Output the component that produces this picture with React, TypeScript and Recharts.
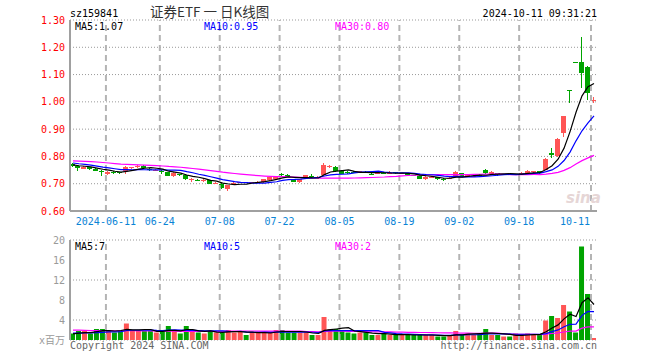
import React from 'react';
import { ComposedChart, Bar, Line, XAxis, YAxis, CartesianGrid, ReferenceLine, Cell } from 'recharts';

// trading days shown on the daily K chart
const dates = [
  '2024-05-31', '2024-06-03', '2024-06-04', '2024-06-05', '2024-06-06', '2024-06-07', '2024-06-11', '2024-06-12', '2024-06-13', '2024-06-14',
  '2024-06-17', '2024-06-18', '2024-06-19', '2024-06-20', '2024-06-21', '2024-06-24', '2024-06-25', '2024-06-26', '2024-06-27', '2024-06-28',
  '2024-07-01', '2024-07-02', '2024-07-03', '2024-07-04', '2024-07-05', '2024-07-08', '2024-07-09', '2024-07-10', '2024-07-11', '2024-07-12',
  '2024-07-15', '2024-07-16', '2024-07-17', '2024-07-18', '2024-07-19', '2024-07-22', '2024-07-23', '2024-07-24', '2024-07-25', '2024-07-26',
  '2024-07-29', '2024-07-30', '2024-07-31', '2024-08-01', '2024-08-02', '2024-08-05', '2024-08-06', '2024-08-07', '2024-08-08', '2024-08-09',
  '2024-08-12', '2024-08-13', '2024-08-14', '2024-08-15', '2024-08-16', '2024-08-19', '2024-08-20', '2024-08-21', '2024-08-22', '2024-08-23',
  '2024-08-26', '2024-08-27', '2024-08-28', '2024-08-29', '2024-08-30', '2024-09-02', '2024-09-03', '2024-09-04', '2024-09-05', '2024-09-06',
  '2024-09-09', '2024-09-10', '2024-09-11', '2024-09-12', '2024-09-13', '2024-09-18', '2024-09-19', '2024-09-20', '2024-09-23', '2024-09-24',
  '2024-09-25', '2024-09-26', '2024-09-27', '2024-09-30', '2024-10-08', '2024-10-09', '2024-10-10', '2024-10-11',
];

const opens = [
  0.772, 0.766, 0.755, 0.760, 0.755, 0.748, 0.737, 0.744, 0.742, 0.748,
  0.757, 0.760, 0.766, 0.755, 0.750, 0.748, 0.742, 0.729, 0.736, 0.733,
  0.713, 0.714, 0.711, 0.712, 0.700, 0.700, 0.680, 0.698, 0.703, 0.707,
  0.704, 0.705, 0.706, 0.712, 0.717, 0.734, 0.732, 0.716, 0.707, 0.721,
  0.730, 0.722, 0.732, 0.763, 0.763, 0.748, 0.744, 0.743, 0.741, 0.744,
  0.737, 0.736, 0.740, 0.739, 0.742, 0.738, 0.738, 0.731, 0.730, 0.718,
  0.725, 0.724, 0.719, 0.719, 0.730, 0.738, 0.726, 0.728, 0.733, 0.752,
  0.736, 0.739, 0.734, 0.735, 0.734, 0.737, 0.741, 0.743, 0.746, 0.751,
  0.811, 0.800, 0.887, 1.043, 1.147, 1.147, 1.128, 1.005,
];

const highs = [
  0.775, 0.768, 0.764, 0.762, 0.757, 0.750, 0.746, 0.746, 0.744, 0.765,
  0.762, 0.768, 0.768, 0.757, 0.753, 0.750, 0.743, 0.742, 0.737, 0.735,
  0.722, 0.716, 0.716, 0.713, 0.705, 0.702, 0.697, 0.706, 0.708, 0.708,
  0.707, 0.710, 0.718, 0.725, 0.729, 0.741, 0.735, 0.718, 0.718, 0.733,
  0.735, 0.728, 0.775, 0.768, 0.766, 0.750, 0.746, 0.746, 0.748, 0.746,
  0.738, 0.745, 0.742, 0.745, 0.744, 0.741, 0.740, 0.733, 0.731, 0.727,
  0.728, 0.725, 0.721, 0.724, 0.745, 0.740, 0.733, 0.731, 0.735, 0.754,
  0.746, 0.741, 0.737, 0.736, 0.736, 0.742, 0.750, 0.748, 0.748, 0.793,
  0.830, 0.866, 0.948, 1.043, 1.147, 1.239, 1.131, 1.017,
];

const lows = [
  0.760, 0.748, 0.753, 0.752, 0.745, 0.729, 0.732, 0.737, 0.735, 0.737,
  0.755, 0.758, 0.755, 0.748, 0.748, 0.736, 0.727, 0.726, 0.729, 0.714,
  0.708, 0.709, 0.708, 0.699, 0.698, 0.682, 0.675, 0.696, 0.701, 0.702,
  0.702, 0.703, 0.703, 0.710, 0.716, 0.725, 0.723, 0.705, 0.704, 0.716,
  0.722, 0.720, 0.730, 0.758, 0.743, 0.735, 0.736, 0.738, 0.738, 0.739,
  0.733, 0.734, 0.737, 0.735, 0.736, 0.736, 0.733, 0.728, 0.716, 0.715,
  0.722, 0.713, 0.711, 0.716, 0.728, 0.724, 0.723, 0.725, 0.728, 0.737,
  0.734, 0.728, 0.732, 0.732, 0.731, 0.732, 0.739, 0.741, 0.737, 0.749,
  0.793, 0.797, 0.870, 0.997, 1.147, 1.050, 1.007, 0.995,
];

const closes = [
  0.764, 0.759, 0.762, 0.755, 0.747, 0.742, 0.744, 0.740, 0.738, 0.763,
  0.760, 0.766, 0.756, 0.750, 0.751, 0.743, 0.729, 0.740, 0.731, 0.716,
  0.719, 0.712, 0.714, 0.700, 0.702, 0.684, 0.695, 0.703, 0.706, 0.704,
  0.705, 0.708, 0.717, 0.723, 0.728, 0.732, 0.726, 0.708, 0.716, 0.731,
  0.725, 0.725, 0.770, 0.764, 0.745, 0.737, 0.739, 0.742, 0.746, 0.742,
  0.735, 0.739, 0.739, 0.741, 0.738, 0.739, 0.733, 0.730, 0.718, 0.726,
  0.726, 0.716, 0.714, 0.722, 0.742, 0.726, 0.731, 0.729, 0.730, 0.739,
  0.743, 0.734, 0.735, 0.733, 0.735, 0.740, 0.745, 0.745, 0.740, 0.792,
  0.807, 0.865, 0.948, 1.043, 1.147, 1.107, 1.034, 1.007,
];

// volume, millions
const volumes = [
  1.3, 1.8, 1.8, 1.3, 2.2, 2.2, 1.8, 1.5, 1.8, 3.3,
  1.8, 1.8, 1.8, 1.8, 1.5, 1.8, 2.8, 1.8, 1.3, 2.8,
  1.8, 1.5, 1.3, 1.8, 1.5, 1.5, 2.0, 1.5, 1.8, 1.0,
  1.5, 1.5, 1.5, 1.5, 2.0, 2.0, 1.5, 1.5, 1.5, 1.5,
  1.0, 1.0, 4.6, 2.2, 2.2, 1.8, 1.5, 1.3, 1.5, 1.5,
  1.0, 1.0, 1.3, 1.0, 1.0, 1.0, 1.0, 1.0, 1.0, 1.0,
  1.0, 0.7, 0.7, 1.0, 1.8, 1.0, 1.3, 1.0, 1.3, 2.2,
  1.0, 1.0, 0.7, 0.7, 1.3, 1.0, 1.3, 1.0, 1.0, 3.9,
  4.8, 4.4, 7.0, 5.7, 1.5, 18.7, 9.2, 0.4,
];

// sessions before the first candle (only feed the moving averages)
const prevCloses = [
  0.781, 0.785, 0.792, 0.789, 0.794, 0.798, 0.801, 0.796, 0.790, 0.788,
  0.793, 0.786, 0.782, 0.784, 0.779, 0.781, 0.776, 0.783, 0.785, 0.788,
  0.786, 0.784, 0.781, 0.783, 0.781, 0.774, 0.771, 0.768, 0.767,
];
const prevVolumes = [
  2.6, 2.9, 2.4, 2.2, 2.5, 2.1, 2.0, 2.6, 2.3, 2.1,
  2.4, 2.0, 2.2, 2.5, 2.1, 2.3, 2.2, 2.4, 2.1, 2.2,
  1.6, 1.4, 1.5, 1.6, 1.4, 1.1, 1.3, 1.2, 1.2,
];

const gridDates = ['2024-06-11', '2024-06-24', '2024-07-08', '2024-07-22', '2024-08-05', '2024-08-19', '2024-09-02', '2024-09-18', '2024-10-11'];
const priceTicks = [0.6, 0.7, 0.8, 0.9, 1.0, 1.1, 1.2, 1.3];
const volumeTicks = [0, 4, 8, 12, 16, 20];
const priceLegend = ['MA5:1.07', 'MA10:0.95', 'MA30:0.80'];
const volumeLegend = ['MA5:7', 'MA10:5', 'MA30:2'];

const RED = '#ff5555';
const GREEN = '#00a400';
const MA_COLORS = ['#000000', '#0000ff', '#ff00ff'];
const LEGEND_X = [75, 204, 335];
const MONO = "'DejaVu Sans Mono', 'Noto Sans CJK SC', monospace";
const BORDER = { stroke: '#a0a0a0', strokeWidth: 2 };

function movingAverage(values: number[], prev: number[], n: number) {
  const all = [...prev, ...values];
  return values.map((_, i) => {
    const end = prev.length + i + 1;
    const win = all.slice(Math.max(0, end - n), end);
    return win.reduce((a, b) => a + b, 0) / win.length;
  });
}

const ma5 = movingAverage(closes, prevCloses, 5);
const ma10 = movingAverage(closes, prevCloses, 10);
const ma30 = movingAverage(closes, prevCloses, 30);
const vma5 = movingAverage(volumes, prevVolumes, 5);
const vma10 = movingAverage(volumes, prevVolumes, 10);
const vma30 = movingAverage(volumes, prevVolumes, 30);

const rows = dates.map((date, i) => ({
  date,
  open: opens[i],
  high: highs[i],
  low: lows[i],
  close: closes[i],
  range: [lows[i], highs[i]],
  vol: volumes[i],
  up: closes[i] > opens[i],
  ma5: ma5[i],
  ma10: ma10[i],
  ma30: ma30[i],
  vma5: vma5[i],
  vma10: vma10[i],
  vma30: vma30[i],
}));

const Candle = (props: any) => {
  const { x, y, width, height, payload } = props;
  const top = Math.min(y, y + height);
  const bottom = Math.max(y, y + height);
  const span = payload.high - payload.low;
  const toY = (v: number) => (span > 0 ? top + ((payload.high - v) / span) * (bottom - top) : top);
  const color = payload.up ? RED : GREEN;
  const bx = Math.floor(x);
  const cx = bx + 2.5;
  const yo = toY(payload.open);
  const yc = toY(payload.close);
  const bodyTop = Math.min(yo, yc);
  const bodyH = Math.max(1, Math.abs(yo - yc));
  return (
    <g shapeRendering="crispEdges">
      <line x1={cx} x2={cx} y1={top} y2={Math.max(bottom, top + 1)} stroke={color} strokeWidth={1} />
      <rect x={bx} y={bodyTop} width={5} height={bodyH} fill={color} />
    </g>
  );
};

const DateTick = (props: any) => {
  const { x, y, payload } = props;
  const v: string = payload.value;
  const label = v === gridDates[0] ? v : v.slice(5);
  const last = v === gridDates[gridDates.length - 1];
  return (
    <text
      x={last ? x - 4 : x - 3}
      y={y + 14}
      textAnchor={last ? 'end' : 'middle'}
      fill="#0a84d6"
      fontSize={10}
      fontFamily={MONO}
    >
      {label}
    </text>
  );
};

const gridLines = gridDates.map((d) => (
  <ReferenceLine
    key={d}
    x={d}
    position="start"
    stroke="#b4b4b4"
    strokeWidth={2}
    strokeDasharray="6 4"
    ifOverflow="extendDomain"
  />
));

export default function App() {
  return (
    <div style={{ position: 'absolute', left: 0, top: 0, width: 660, height: 360, background: '#fff', overflow: 'hidden' }}>
      <div style={{ position: 'absolute', left: 0, top: 0 }}>
        <ComposedChart width={660} height={230} data={rows} margin={{ top: 20, right: 63, bottom: 0, left: 20 }}>
          <CartesianGrid vertical={false} stroke="#999" strokeDasharray="1 2" />
          {gridLines}
          <XAxis
            dataKey="date"
            ticks={gridDates}
            interval={0}
            height={19}
            tickSize={0}
            tickMargin={0}
            tickLine={false}
            axisLine={BORDER}
            tick={<DateTick />}
          />
          <XAxis xAxisId="top" dataKey="date" orientation="top" height={0} tick={false} tickLine={false} axisLine={BORDER} />
          <YAxis
            domain={[0.6, 1.3]}
            ticks={priceTicks}
            allowDataOverflow
            width={50}
            tickSize={0}
            tickMargin={5}
            tickLine={false}
            axisLine={BORDER}
            tickFormatter={(v: number) => v.toFixed(2)}
            tick={{ fill: '#ff0000', fontSize: 10, fontFamily: MONO }}
          />
          <YAxis yAxisId="right" orientation="right" width={0} tick={false} tickLine={false} axisLine={BORDER} />
          <Bar dataKey="range" barSize={5} shape={Candle} isAnimationActive={false} />
          <Line dataKey="ma30" stroke={MA_COLORS[2]} strokeWidth={1.2} dot={false} isAnimationActive={false} />
          <Line dataKey="ma10" stroke={MA_COLORS[1]} strokeWidth={1.2} dot={false} isAnimationActive={false} />
          <Line dataKey="ma5" stroke={MA_COLORS[0]} strokeWidth={1.2} dot={false} isAnimationActive={false} />
        </ComposedChart>
      </div>
      <div style={{ position: 'absolute', left: 0, top: 230 }}>
        <ComposedChart width={660} height={120} data={rows} margin={{ top: 10, right: 63, bottom: 10, left: 20 }}>
          <CartesianGrid vertical={false} stroke="#999" strokeDasharray="1 2" />
          {gridLines}
          <XAxis dataKey="date" hide />
          <XAxis xAxisId="top" dataKey="date" orientation="top" height={0} tick={false} tickLine={false} axisLine={BORDER} />
          <YAxis
            domain={[0, 20]}
            ticks={volumeTicks}
            allowDataOverflow
            width={50}
            tickSize={0}
            tickMargin={5}
            tickLine={false}
            axisLine={BORDER}
            tickFormatter={(v: number) => (v === 0 ? 'x百万' : String(v))}
            tick={{ fill: '#9a9a9a', fontSize: 10, fontFamily: MONO }}
          />
          <YAxis yAxisId="right" orientation="right" width={0} tick={false} tickLine={false} axisLine={BORDER} />
          <Bar dataKey="vol" barSize={5} isAnimationActive={false}>
            {rows.map((r, i) => (
              <Cell key={i} fill={r.up ? RED : GREEN} />
            ))}
          </Bar>
          <Line dataKey="vma30" stroke={MA_COLORS[2]} strokeWidth={1.2} dot={false} isAnimationActive={false} />
          <Line dataKey="vma10" stroke={MA_COLORS[1]} strokeWidth={1.2} dot={false} isAnimationActive={false} />
          <Line dataKey="vma5" stroke={MA_COLORS[0]} strokeWidth={1.2} dot={false} isAnimationActive={false} />
        </ComposedChart>
      </div>
      <svg width={660} height={360} style={{ position: 'absolute', left: 0, top: 0, pointerEvents: 'none' }}>
        <text x={70} y={16.5} fontSize={10} fontFamily={MONO} fill="#000">sz159841</text>
        <text x={150} y={16.5} fontSize={13.5} fontFamily="'Noto Sans CJK SC', sans-serif" fill="#333">证券ETF 一 日K线图</text>
        <text x={597} y={16.5} fontSize={10} fontFamily={MONO} fill="#000" textAnchor="end">2024-10-11 09:31:21</text>
        {priceLegend.map((t, i) => (
          <text key={t} x={LEGEND_X[i]} y={30} fontSize={10} fontFamily={MONO} fill={MA_COLORS[i]}>{t}</text>
        ))}
        {volumeLegend.map((t, i) => (
          <text key={t} x={LEGEND_X[i]} y={250} fontSize={10} fontFamily={MONO} fill={MA_COLORS[i]}>{t}</text>
        ))}
        <text x={566} y={203} fontSize={15} fontWeight="bold" fontStyle="italic" fontFamily="'DejaVu Sans', sans-serif" fill="#e6d6d6">sina</text>
        <text x={70} y={349} fontSize={10} fontFamily={MONO} fill="#666">Copyright 2024 SINA.COM</text>
        <text x={597} y={349} fontSize={10} fontFamily={MONO} fill="#666" textAnchor="end">http://finance.sina.com.cn</text>
      </svg>
    </div>
  );
}
